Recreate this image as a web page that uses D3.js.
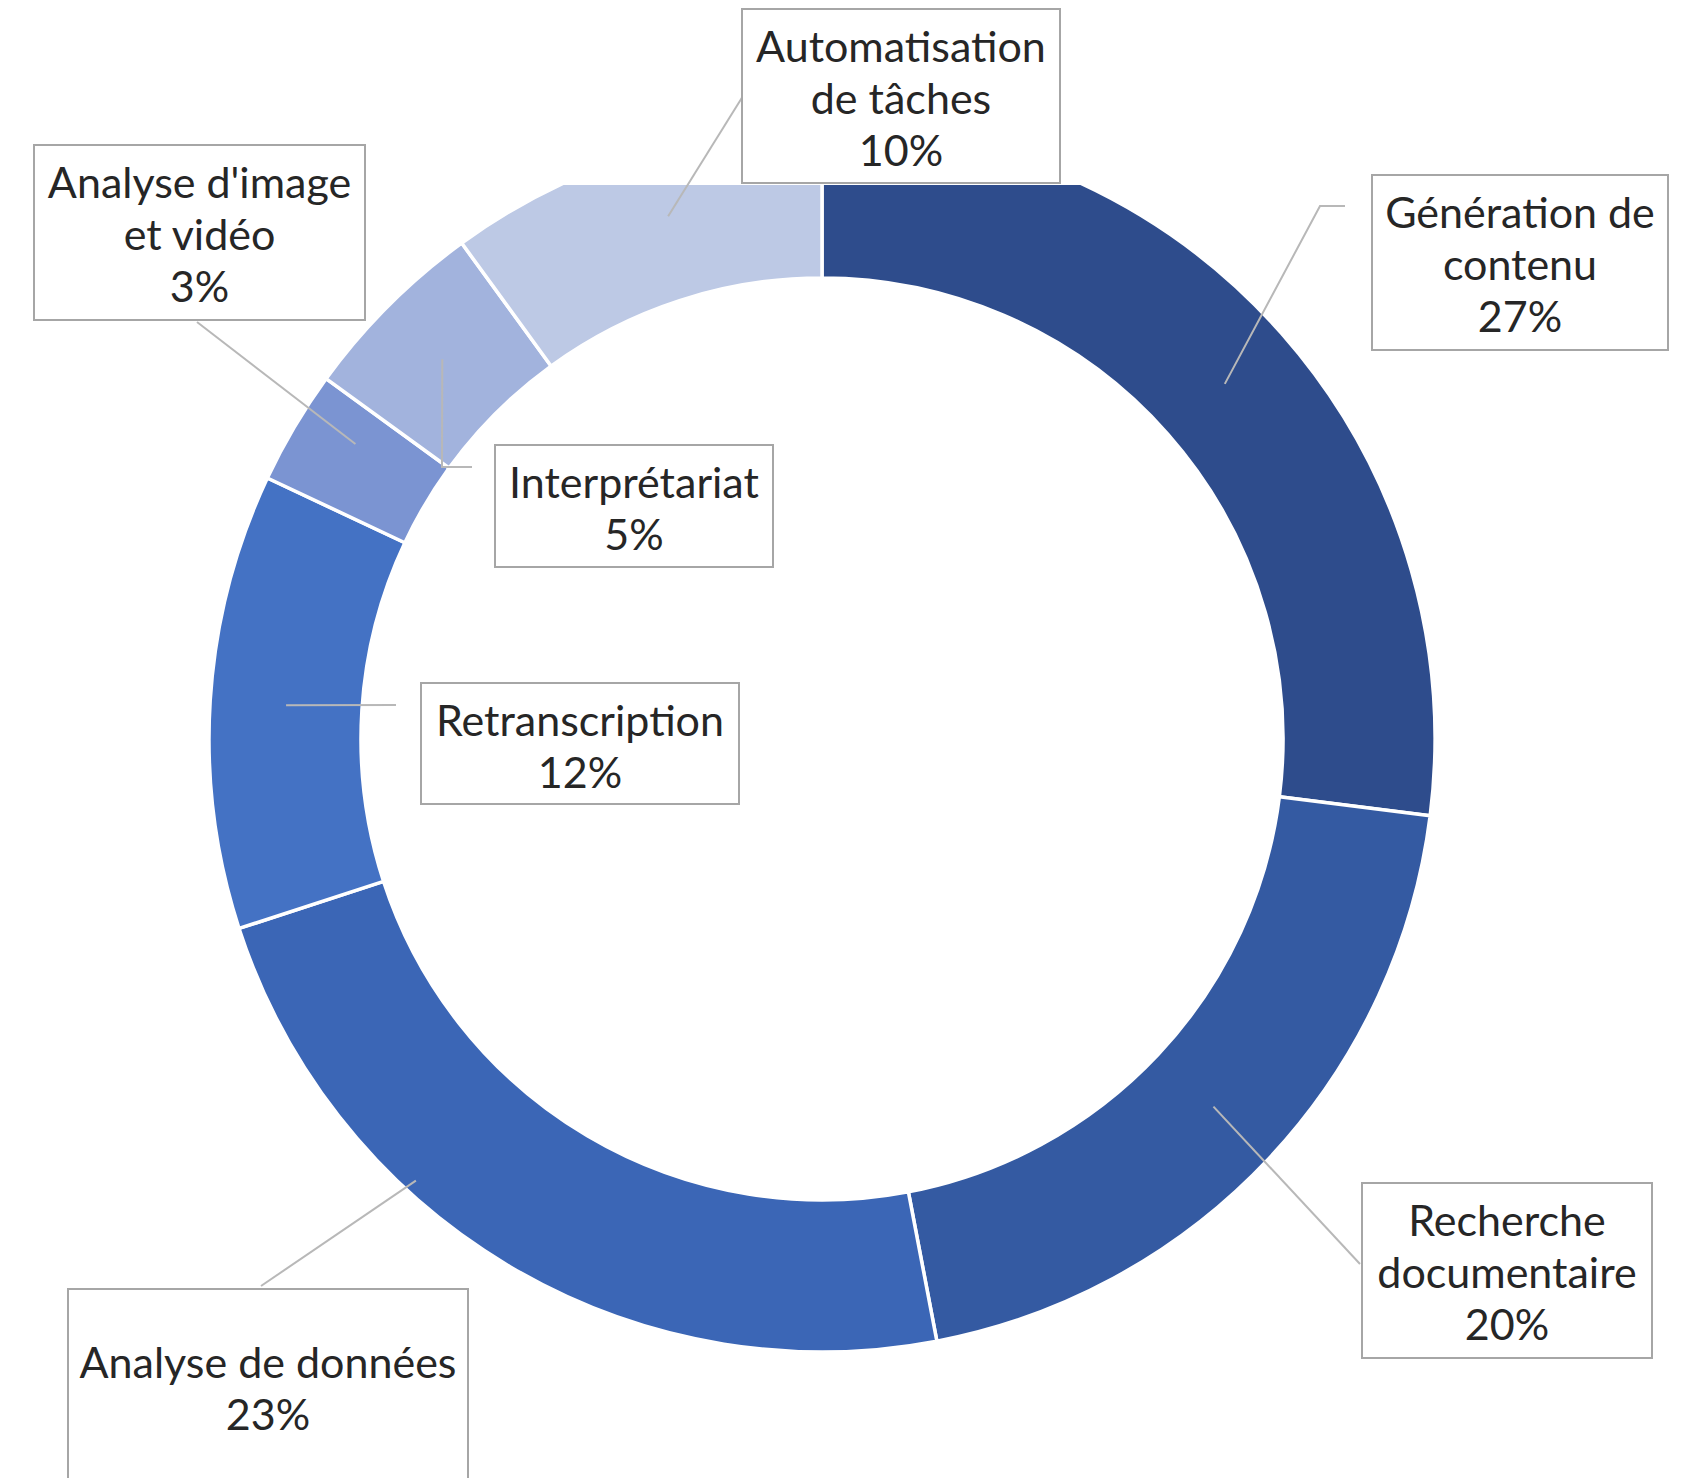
<!DOCTYPE html>
<html lang="fr">
<head>
<meta charset="UTF-8">
<title>Usages de l'IA</title>
<script src="https://d3js.org/d3.v7.min.js"></script>
<style>
    body { margin: 0; background: #fff; }
    svg { display: block; }
    text { font-family: Lato, "Open Sans", sans-serif; fill: #262626; }
</style>
</head>
<body>
<div id="chart"></div>
<script>
// data, clockwise from the top
const categories = ["Génération de contenu", "Recherche documentaire", "Analyse de données",
    "Retranscription", "Analyse d'image et vidéo", "Interprétariat", "Automatisation de tâches"];
const values = [27, 20, 23, 12, 3, 5, 10];
const labelLines = [["Génération de", "contenu"], ["Recherche", "documentaire"], ["Analyse de données"],
    ["Retranscription"], ["Analyse d'image", "et vidéo"], ["Interprétariat"], ["Automatisation", "de tâches"]];
const colors = ["#2E4C8C", "#345AA2", "#3B66B6", "#4472C4", "#7B94D2", "#A2B3DD", "#BDC9E5"];

// label boxes + leader lines (annotation layout)
// leader starts at the slice centroid unless shift (deg) / r are given
const labelLayout = [
    { box: [1372, 175, 296, 175], path: [[1320, 206], [1345, 206]] },
    { box: [1362, 1183, 290, 175], path: [[1360, 1264]] },
    { box: [68, 1289, 400, 200], shift: 12, r: 600, path: [[261, 1286]] },
    { box: [421, 683, 318, 121], path: [[396, 705]] },
    { box: [34, 145, 331, 175], shift: 1.7, r: 552, path: [[197, 322]] },
    { box: [495, 445, 278, 122], path: [[442, 467], [472, 467]] },
    { box: [742, 9, 318, 174], shift: 1.6, r: 545, path: [[743, 96]] }
];

const width = 1685, height = 1478;
const cx = 822, cy = 739;
const outerR = 613, innerR = 461;
const clipTop = 185; // the plot area cuts off the top of the ring

const svg = d3.select("#chart").append("svg")
    .attr("width", width).attr("height", height);

svg.append("clipPath").attr("id", "plotArea")
    .append("rect")
    .attr("x", 0).attr("y", clipTop)
    .attr("width", width).attr("height", height - clipTop);

const pie = d3.pie().sort(null).value(d => d);
const arcs = pie(values);
const arc = d3.arc().innerRadius(innerR).outerRadius(outerR);

svg.append("g")
    .attr("clip-path", "url(#plotArea)")
    .append("g")
    .attr("transform", `translate(${cx},${cy})`)
    .selectAll("path")
    .data(arcs)
    .join("path")
    .attr("d", arc)
    .attr("fill", (d, i) => colors[i])
    .attr("stroke", "#fff")
    .attr("stroke-width", 3.5)
    .attr("stroke-linejoin", "round");

// leader lines
const rad = Math.PI / 180;
svg.append("g")
    .selectAll("path")
    .data(arcs)
    .join("path")
    .attr("fill", "none")
    .attr("stroke", "#B8B8B8")
    .attr("stroke-width", 2)
    .attr("d", (d, i) => {
        const L = labelLayout[i];
        const mid = (d.startAngle + d.endAngle) / 2 + (L.shift || 0) * rad;
        const p = d3.pointRadial(mid, L.r || (innerR + outerR) / 2);
        return d3.line()([[cx + p[0], cy + p[1]]].concat(L.path));
    });

// label boxes
const lab = svg.append("g")
    .selectAll("g")
    .data(arcs)
    .join("g");

lab.append("rect")
    .attr("x", (d, i) => labelLayout[i].box[0])
    .attr("y", (d, i) => labelLayout[i].box[1])
    .attr("width", (d, i) => labelLayout[i].box[2])
    .attr("height", (d, i) => labelLayout[i].box[3])
    .attr("fill", "#fff")
    .attr("stroke", "#A6A6A6")
    .attr("stroke-width", 2);

const lineH = 52;
lab.append("text")
    .attr("text-anchor", "middle")
    .attr("font-size", 43)
    .each(function (d, i) {
        const b = labelLayout[i].box;
        const lines = labelLines[i].concat([values[i] + "%"]);
        const t = d3.select(this);
        const x = b[0] + b[2] / 2;
        const y0 = b[1] + 53 + (i === 2 ? 36 : 0);
        lines.forEach((s, k) => {
            t.append("tspan").attr("x", x).attr("y", y0 + k * lineH).text(s);
        });
    });
</script>
</body>
</html>
